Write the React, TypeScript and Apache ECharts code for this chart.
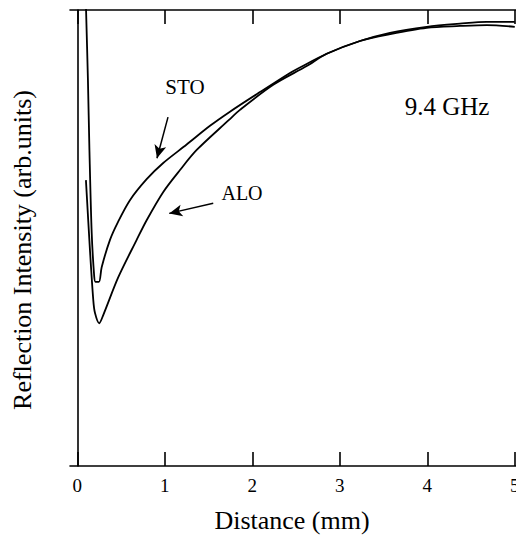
import React, { useEffect, useRef } from "react";
import * as echarts from "echarts";

// Distance (mm) / reflection intensity (arb. units, 0-100 scale of the plot height)
const stoX = [0.099, 0.122, 0.139, 0.165, 0.194, 0.208, 0.248, 0.279, 0.374, 0.465, 0.602, 0.793, 0.979, 1.25, 1.517, 1.745, 2.088, 2.431, 2.545, 2.851, 3.231, 3.574, 3.993, 4.374, 4.679, 5.0];
const stoY = [101.1, 84.6, 69.3, 51.1, 41.5, 40.4, 40.4, 43.6, 49.6, 53.5, 58.3, 62.9, 66.4, 70.5, 74.6, 77.7, 82.0, 86.2, 87.4, 90.4, 93.2, 95.0, 96.3, 97.0, 97.4, 97.4];
const aloX = [0.099, 0.145, 0.183, 0.202, 0.251, 0.297, 0.469, 0.679, 0.793, 0.983, 1.174, 1.365, 1.734, 1.859, 2.24, 2.622, 2.85, 3.231, 3.574, 3.993, 4.374, 4.679, 5.0];
const aloY = [62.7, 47.4, 36.4, 33.6, 31.3, 33.1, 41.4, 49.6, 53.9, 60.1, 64.9, 69.3, 75.9, 78.1, 83.6, 87.7, 90.4, 93.2, 94.7, 96.1, 96.5, 96.7, 96.3];
const xTicks = [0, 1, 2, 3, 4, 5];
// annotation arrows: [fromX, fromY, toX, toY] in data units
const stoArrow = [1.037, 76.5, 0.911, 67.5];
const aloArrow = [1.554, 57.6, 1.051, 55.4];

const FONT = "'Liberation Serif', 'Times New Roman', serif";

export default function App() {
  const ref = useRef<HTMLDivElement>(null);
  useEffect(() => {
    const chart = echarts.init(ref.current!, undefined, { renderer: "svg" });
    const pair = (xs: number[], ys: number[]) => xs.map((x, i) => [x, ys[i]]);
    const arrowLine = (a: number[]) => ({
      silent: true,
      animation: false,
      symbol: ["none", "arrow"],
      symbolSize: [9, 13],
      label: { show: false },
      lineStyle: { color: "#000", width: 1.5, type: "solid" },
      data: [[{ coord: [a[0], a[1]] }, { coord: [a[2], a[3]] }]],
    });
    chart.setOption({
      animation: false,
      grid: { left: 70, right: 0, top: 10, bottom: 70, containLabel: false, outerBoundsMode: "none" },
      xAxis: [
        {
          type: "value",
          min: -0.083,
          max: 5.014,
          axisLine: { lineStyle: { color: "#000", width: 1.6 } },
          axisTick: { inside: true, length: 14, customValues: xTicks, lineStyle: { color: "#000", width: 1.6 } },
          axisLabel: { customValues: xTicks, color: "#000", fontSize: 19, fontFamily: FONT, margin: 10, hideOverlap: false },
          splitLine: { show: false },
        },
        {
          type: "value",
          position: "top",
          min: -0.083,
          max: 5.014,
          axisLine: { lineStyle: { color: "#000", width: 1.6 } },
          axisTick: { inside: true, length: 14, customValues: xTicks, lineStyle: { color: "#000", width: 1.6 } },
          axisLabel: { show: false },
          splitLine: { show: false },
        },
      ],
      yAxis: {
        type: "value",
        min: 0,
        max: 100,
        axisLine: { show: true, lineStyle: { color: "#000", width: 1.6 } },
        axisTick: { show: false },
        axisLabel: { show: false },
        splitLine: { show: false },
      },
      series: [
        {
          name: "STO",
          type: "line",
          data: pair(stoX, stoY),
          symbol: "none",
          smooth: 0.3,
          clip: true,
          lineStyle: { color: "#000", width: 1.8 },
          markLine: arrowLine(stoArrow),
        },
        {
          name: "ALO",
          type: "line",
          data: pair(aloX, aloY),
          symbol: "none",
          smooth: 0.3,
          clip: true,
          lineStyle: { color: "#000", width: 1.8 },
          markLine: arrowLine(aloArrow),
        },
      ],
      graphic: [
        {
          type: "text",
          x: 22,
          y: 250,
          rotation: Math.PI / 2,
          style: { text: "Reflection Intensity (arb.units)", font: `26px ${FONT}`, fill: "#000", textAlign: "center", textVerticalAlign: "middle" },
        },
        {
          type: "text",
          x: 292,
          y: 520,
          style: { text: "Distance (mm)", font: `26px ${FONT}`, fill: "#000", textAlign: "center", textVerticalAlign: "middle" },
        },
        {
          type: "text",
          x: 185,
          y: 87,
          style: { text: "STO", font: `21px ${FONT}`, fill: "#000", textAlign: "center", textVerticalAlign: "middle" },
        },
        {
          type: "text",
          x: 242,
          y: 193,
          style: { text: "ALO", font: `20px ${FONT}`, fill: "#000", textAlign: "center", textVerticalAlign: "middle" },
        },
        {
          type: "text",
          x: 447,
          y: 106,
          style: { text: "9.4 GHz", font: `25px ${FONT}`, fill: "#000", textAlign: "center", textVerticalAlign: "middle" },
        },
      ],
    });
    return () => chart.dispose();
  }, []);
  return <div ref={ref} style={{ position: "fixed", left: 0, top: 0, width: 516, height: 536, background: "#fff" }} />;
}
